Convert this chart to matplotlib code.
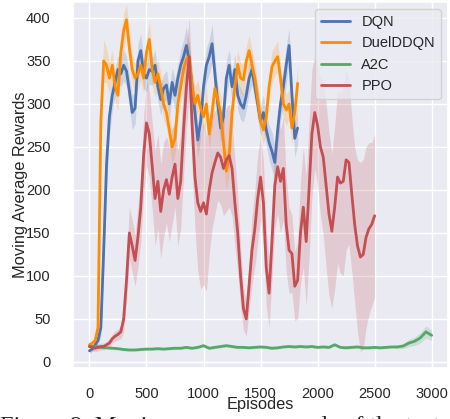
import numpy as np
import matplotlib
matplotlib.use("Agg")
import matplotlib.pyplot as plt
import seaborn as sns

# moving average rewards (step 25 episodes)
dqn = [13, 15, 20, 25, 40, 130, 230, 285, 310, 325,
       340, 335, 345, 338, 315, 290, 295, 350, 362, 335,
       330, 340, 338, 345, 320, 305, 318, 322, 300, 325,
       310, 330, 345, 355, 368, 350, 320, 290, 258, 280,
       320, 345, 355, 370, 335, 300, 272, 285, 330, 345,
       320, 340, 310, 300, 295, 310, 330, 340, 320, 300,
       280, 290, 270, 255, 245, 232, 270, 300, 320, 345,
       368, 310, 260, 272]
dqn_sd = [3, 3, 4, 6, 10, 25, 30, 22, 18, 16,
          16, 15, 18, 17, 18, 20, 18, 20, 20, 17,
          16, 17, 16, 18, 17, 18, 16, 17, 18, 17,
          18, 16, 18, 20, 22, 20, 18, 20, 20, 18,
          18, 20, 20, 22, 20, 18, 17, 18, 20, 18,
          17, 18, 17, 18, 16, 17, 18, 18, 17, 18,
          17, 20, 18, 20, 22, 20, 18, 20, 22, 22,
          20, 18, 22, 20]

duel = [20, 22, 25, 40, 280, 350, 345, 330, 345, 320,
        310, 360, 385, 398, 365, 340, 330, 335, 345, 330,
        360, 375, 340, 325, 335, 320, 300, 290, 270, 250,
        260, 300, 320, 340, 352, 355, 320, 300, 310, 295,
        285, 300, 265, 290, 318, 305, 290, 255, 222, 240,
        290, 320, 346, 330, 328, 350, 362, 345, 330, 305,
        280, 270, 285, 320, 343, 350, 355, 330, 300, 293,
        300, 272, 290, 324]
duel_sd = [3, 3, 4, 12, 30, 25, 20, 18, 18, 17,
           18, 20, 20, 18, 20, 18, 17, 18, 18, 18,
           18, 20, 18, 17, 18, 17, 18, 17, 18, 20,
           18, 20, 18, 18, 17, 18, 20, 20, 18, 17,
           18, 20, 18, 18, 17, 18, 20, 22, 22, 20,
           20, 18, 17, 18, 18, 17, 18, 18, 17, 18,
           18, 17, 18, 17, 18, 17, 18, 17, 18, 18,
           17, 18, 20, 20]

# step 50 episodes
a2c = [18, 18, 17, 16.5, 16, 15.5, 14.5, 14, 14, 14.5,
       15, 15, 15.5, 15, 15.5, 16, 16, 17, 16, 17,
       19, 16, 17, 18, 19, 18, 17, 17, 16.5, 17,
       17.5, 17, 16, 16.5, 17.5, 18, 17.5, 18, 17.5, 18,
       17, 17.5, 17, 20, 17, 16.5, 17, 17.5, 16.5, 16.5,
       17, 16.5, 17, 17.5, 17.5, 18.5, 22, 24, 28, 35,
       31]
a2c_sd = [1.5, 1.5, 1.5, 1.5, 1.5, 1.5, 1.5, 1.5, 1.5, 1.5,
          1.5, 1.5, 1.5, 1.5, 1.5, 1.5, 1.5, 1.5, 1.5, 1.5,
          1.5, 1.5, 1.5, 1.5, 1.5, 1.5, 1.5, 1.5, 1.5, 1.5,
          1.5, 1.5, 1.5, 1.5, 1.5, 1.5, 1.5, 1.5, 1.5, 1.5,
          1.5, 1.5, 1.5, 1.5, 1.5, 1.5, 1.5, 1.5, 1.5, 1.5,
          1.5, 1.5, 1.5, 1.5, 2, 3, 4, 5, 6, 7,
          6]

# step 25 episodes
ppo = [18, 17, 16, 17, 18, 18, 20, 22, 27, 30,
       32, 35, 50, 95, 150, 135, 118, 145, 180, 240,
       278, 265, 228, 190, 210, 175, 200, 212, 195, 215,
       230, 190, 210, 270, 320, 355, 275, 215, 185, 175,
       185, 172, 200, 220, 232, 243, 238, 225, 235, 240,
       225, 185, 150, 100, 62, 50, 90, 130, 155, 190,
       215, 185, 110, 80, 140, 205, 227, 210, 225, 160,
       130, 126, 88, 95, 150, 180, 140, 200, 265, 290,
       275, 250, 238, 205, 172, 152, 180, 215, 208, 210,
       235, 232, 195, 160, 135, 122, 125, 145, 155, 160,
       170]
ppo_sd = [4, 4, 4, 4, 4, 4, 4, 5, 5, 6,
          6, 8, 15, 25, 30, 30, 30, 35, 40, 45,
          50, 50, 50, 55, 55, 55, 55, 50, 55, 55,
          50, 55, 55, 55, 50, 45, 50, 60, 80, 90,
          95, 90, 75, 65, 60, 55, 55, 55, 60, 60,
          55, 50, 45, 35, 25, 20, 30, 40, 45, 50,
          50, 50, 45, 40, 45, 50, 55, 60, 60, 55,
          50, 45, 40, 45, 60, 70, 75, 80, 75, 65,
          70, 80, 90, 95, 95, 90, 95, 100, 105, 110,
          105, 95, 90, 90, 100, 110, 110, 105, 100, 95,
          95]

series = [
    ("DQN", dqn, dqn_sd, 25, "#4C72B0"),
    ("DuelDDQN", duel, duel_sd, 25, "#FF8C00"),
    ("A2C", a2c, a2c_sd, 50, "#55A868"),
    ("PPO", ppo, ppo_sd, 25, "#C44E52"),
]

sns.set_theme(style="darkgrid")
plt.rcParams['font.family'] = ['Liberation Sans', 'DejaVu Sans']

fig = plt.figure(figsize=(4.5, 4.19), dpi=100)
ax = fig.add_axes([0.162, 0.1217, 0.834, 0.8735])

for name, y, sd, step, col in series:
    y = np.array(y, dtype=float)
    sd = np.array(sd, dtype=float)
    x = np.arange(len(y)) * step
    ax.fill_between(x, y - sd, y + sd, color=col, alpha=0.2, linewidth=0)
    ax.plot(x, y, color=col, lw=2, label=name)

ax.set_xlim(-145, 3145)
ax.set_ylim(-7, 418.5)
ax.set_xticks(np.arange(0, 3001, 500))
ax.set_yticks(np.arange(0, 401, 50))
ax.tick_params(labelsize=10.5)
ax.tick_params(axis='x', pad=8)
ax.tick_params(axis='y', pad=10)
ax.set_xlabel("Episodes", fontsize=11.8)
ax.set_ylabel("Moving Average Rewards", fontsize=11.8)
ax.xaxis.set_label_coords(0.5, -0.08)
ax.yaxis.set_label_coords(-0.12, 0.5)
ax.legend(loc="upper right", fontsize=10.5)

fig.text(0.0, -0.03, "Figure 8: Moving average rewards of the tested algorithms",
         family=['Liberation Serif', 'DejaVu Serif'], fontsize=17.6, va='baseline')

fig.savefig("out.png", dpi=100)
